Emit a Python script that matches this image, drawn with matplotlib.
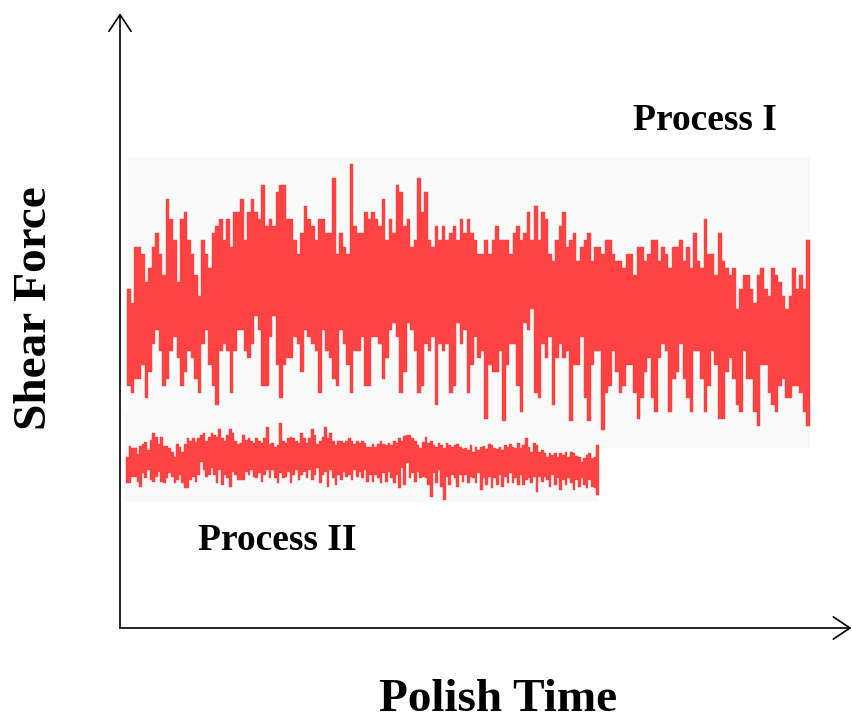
import numpy as np
import matplotlib
matplotlib.use("Agg")
import matplotlib.pyplot as plt
from matplotlib.patches import Rectangle

# Process I shear force signal: upper and lower value of every sample
process1_top = [339, 325, 381, 381, 374, 346, 360, 381, 395, 374,
                353, 429, 409, 388, 346, 409, 416, 388, 374, 353,
                332, 388, 374, 360, 395, 402, 409, 388, 409, 381,
                416, 416, 429, 388, 416, 429, 416, 409, 443, 402,
                409, 402, 436, 443, 443, 409, 409, 388, 374, 395,
                422, 409, 402, 388, 409, 409, 395, 395, 450, 374,
                395, 381, 374, 464, 402, 395, 395, 416, 409, 416,
                409, 402, 429, 388, 409, 395, 443, 436, 402, 409,
                381, 388, 450, 416, 436, 388, 381, 402, 388, 402,
                388, 395, 402, 388, 409, 395, 409, 395, 388, 374,
                374, 388, 374, 388, 402, 388, 388, 388, 374, 395,
                402, 388, 395, 416, 388, 422, 388, 416, 409, 374,
                367, 388, 402, 416, 381, 388, 395, 367, 381, 388,
                395, 367, 381, 381, 374, 388, 388, 374, 367, 367,
                360, 374, 374, 353, 381, 381, 367, 374, 388, 388,
                367, 381, 374, 360, 381, 381, 388, 367, 381, 360,
                395, 367, 360, 409, 374, 374, 353, 395, 367, 360,
                353, 360, 319, 339, 353, 353, 339, 325, 353, 360,
                339, 332, 360, 353, 346, 332, 319, 332, 360, 339,
                353, 339, 388]
process1_bottom = [242, 235, 249, 249, 263, 230, 256, 284, 298, 277,
                   242, 249, 277, 291, 270, 242, 256, 277, 270, 249,
                   235, 284, 298, 263, 242, 223, 277, 284, 277, 235,
                   277, 298, 298, 277, 270, 284, 312, 298, 242, 242,
                   291, 312, 263, 230, 263, 270, 270, 291, 284, 256,
                   298, 291, 284, 277, 235, 298, 277, 270, 249, 242,
                   298, 284, 263, 235, 277, 277, 291, 242, 242, 291,
                   291, 284, 249, 270, 298, 305, 291, 235, 256, 305,
                   298, 277, 235, 242, 284, 277, 291, 223, 284, 277,
                   284, 235, 242, 305, 284, 298, 235, 263, 291, 270,
                   277, 209, 263, 256, 256, 277, 207, 263, 284, 284,
                   242, 216, 305, 298, 319, 235, 230, 284, 270, 291,
                   223, 270, 284, 270, 277, 207, 263, 263, 291, 230,
                   207, 263, 277, 277, 198, 235, 242, 277, 256, 235,
                   242, 263, 263, 235, 209, 230, 256, 270, 230, 216,
                   270, 284, 277, 216, 249, 256, 284, 249, 230, 216,
                   277, 277, 249, 216, 242, 277, 263, 209, 209, 256,
                   270, 249, 223, 216, 277, 249, 249, 216, 202, 263,
                   263, 235, 223, 216, 242, 249, 230, 230, 242, 242,
                   235, 216, 202]

# Process II shear force signal
process2_top = [171, 182, 180, 180, 174, 182, 184, 186, 178, 188,
                195, 191, 184, 191, 182, 182, 180, 176, 171, 184,
                181, 176, 184, 190, 187, 190, 186, 190, 193, 195,
                187, 191, 195, 193, 191, 199, 190, 187, 193, 199,
                195, 187, 184, 185,
                193, 188, 190, 187, 185, 190, 187, 185, 190, 201,
                184, 185, 181, 183, 205, 187, 185, 190, 191, 190,
                187, 185, 195, 190, 185, 190, 199, 193, 184, 187,
                191, 201, 190, 195, 187, 183, 187, 187, 185, 187,
                190, 187, 184, 187, 185,
                187, 185, 181, 181, 184, 181, 184, 187, 184, 183,
                185, 183, 187, 185, 190, 187, 192, 193, 193, 190,
                187, 183, 180, 186, 191, 185, 187, 183, 181, 185,
                183, 180, 185, 183, 181, 183, 184, 181, 179, 180,
                178, 183, 176, 181, 178,
                181, 182, 179, 184, 183, 180, 179, 181, 178, 183,
                181, 184, 181, 180, 185, 180, 183, 190, 181, 176,
                185, 183, 176, 178, 175, 171, 175, 173, 175, 171,
                175, 173, 176, 171, 176, 175, 172, 171, 166, 170,
                173, 175, 170, 171, 183]
process2_bottom = [145, 145, 151, 151, 146, 141, 155, 150, 158, 148,
                   146, 151, 156, 146, 145, 150, 155, 151, 145, 148,
                   153, 145, 140, 140, 148, 151, 146, 153, 166, 158,
                   151, 153, 160, 153, 145, 158, 143, 153, 150, 141,
                   156, 153, 148, 148,
                   148, 156, 153, 158, 151, 150, 155, 146, 153, 158,
                   150, 158, 150, 145, 155, 150, 151, 156, 145, 153,
                   158, 148, 153, 156, 150, 158, 148, 153, 160, 145,
                   153, 156, 141, 158, 150, 143, 153, 148, 156, 151,
                   153, 148, 158, 151, 156,
                   150, 158, 146, 153, 146, 153, 150, 145, 155, 146,
                   156, 150, 145, 153, 140, 160, 143, 165, 150, 155,
                   146, 156, 150, 151, 150, 143, 131, 155, 145, 158,
                   141, 128, 151, 143, 153, 150, 141, 153, 146, 153,
                   145, 151, 150, 145, 155,
                   138, 150, 143, 151, 140, 150, 143, 153, 141, 151,
                   145, 155, 145, 150, 143, 153, 143, 148, 150, 145,
                   151, 136, 151, 146, 151, 148, 141, 153, 143, 150,
                   138, 148, 143, 150, 145, 138, 148, 141, 150, 143,
                   140, 148, 141, 140, 133]

red = "#ff4343"
bg = "#f9f9f9"
font = "Liberation Serif"

fig = plt.figure(figsize=(8.52, 7.22), dpi=100)
ax = fig.add_axes([120 / 852, 94 / 722, 730 / 852, 613 / 722])
ax.set_xlim(0, 730)
ax.set_ylim(0, 613)
ax.axis("off")

# light grey panels behind each trace
ax.add_patch(Rectangle((7, 180), 683, 291, color=bg, lw=0, zorder=0))
ax.add_patch(Rectangle((5, 126), 473, 90, color=bg, lw=0, zorder=0))

top1 = np.array(process1_top)
bot1 = np.array(process1_bottom)
w1 = 683 / len(top1)
x1 = 7 + w1 * (np.arange(len(top1)) + 0.5)
ax.bar(x1, top1 - bot1, bottom=bot1, width=w1, color=red, edgecolor=red, linewidth=0.3, zorder=2)

top2 = np.array(process2_top)
bot2 = np.array(process2_bottom)
w2 = 473 / len(top2)
x2 = 6 + w2 * (np.arange(len(top2)) + 0.5)
ax.bar(x2, top2 - bot2, bottom=bot2, width=w2, color=red, edgecolor=red, linewidth=0.3, zorder=2)

# axis arrows
arrow = dict(arrowstyle="->,head_length=0.6,head_width=0.4", color="black", lw=1.2,
             mutation_scale=20, shrinkA=0, shrinkB=0)
ax.annotate("", xy=(0, 1.003), xytext=(0, 0), xycoords="axes fraction", arrowprops=arrow)
ax.annotate("", xy=(1.002, 0), xytext=(0, 0), xycoords="axes fraction", arrowprops=arrow)

ax.text(585, 507, "Process I", fontsize=27, fontweight="bold", family=font, ha="center", va="center")
ax.text(157, 87, "Process II", fontsize=27, fontweight="bold", family=font, ha="center", va="center")

fig.text(35 / 852, 1 - 308 / 722, "Shear Force", fontsize=34, fontweight="bold", family=font,
         rotation=90, ha="center", va="center")
fig.text(498 / 852, 1 - 700 / 722, "Polish Time", fontsize=34, fontweight="bold", family=font,
         ha="center", va="center")

fig.savefig("out.png", dpi=100)
